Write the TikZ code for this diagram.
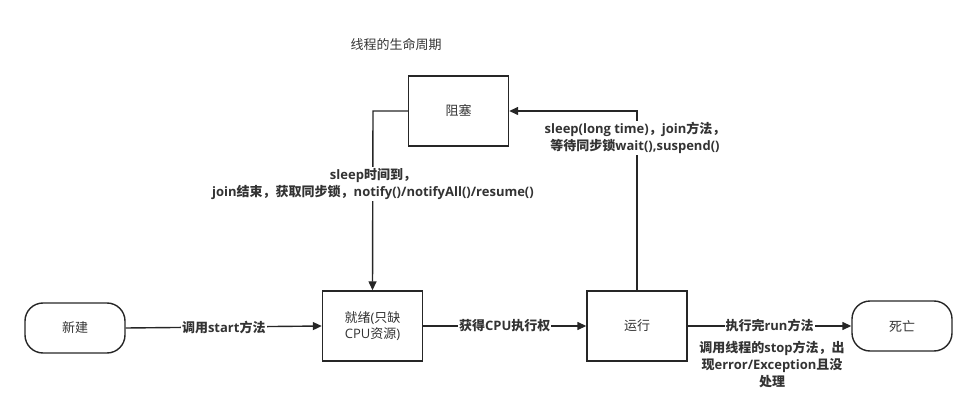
\documentclass[tikz,border=0pt]{standalone}
\usepackage{fontspec}
\newfontfamily\cjk{Noto Sans CJK SC}
\newfontfamily\lat{Open Sans}
\newcommand{\la}[1]{{\lat #1}}
\usetikzlibrary{arrows.meta}
\begin{document}
\begin{tikzpicture}[x=1pt,y=-1pt,
  every node/.style={font=\cjk\fontsize{13}{16}\selectfont, text=black!80},
  box/.style={draw=black!85, line width=1.4pt, minimum width=100pt, minimum height=70pt, inner sep=0pt, align=center},
  term/.style={draw=black!85, line width=1.4pt, rounded corners=18pt, minimum width=100pt, minimum height=50pt, inner sep=0pt},
  conn/.style={draw=black!85, line width=1.4pt, -{Triangle[length=9pt,width=8pt]}},
  lbl/.style={font=\cjk\bfseries\fontsize{13}{17}\selectfont, fill=white, inner sep=1pt, align=center}
]
\useasboundingbox (0,0) rectangle (977,409);
\node at (396,45) {线程的生命周期};
\node[term] (new) at (75,328) {新建};
\node[box] (ready) at (372.5,326) {就绪\la{(}只缺\\\la{CPU}资源\la{)}};
\node[box] (run) at (637,326) {运行};
\node[term] (dead) at (902,326) {死亡};
\node[box] (block) at (458.5,111) {阻塞};
\coordinate (c1) at (637,111);
\coordinate (c2) at (373,111);
\draw[conn] (new.east) -- (ready.west) node[lbl, midway] (l1) {调用\la{start}方法};
\draw[conn] (ready.east) -- (run.west) node[lbl, midway] (l2) {获得\la{CPU}执行权};
\draw[conn] (run.east) -- (dead.west) node[lbl, midway] (l3) {执行完\la{run}方法};
\node[lbl, fill=none] (l4) at (772,364) {调用线程的\la{stop}方法，出\\现\la{error/Exception}且没\\处理};
\draw[conn] (run.north) -- (c1) -- (block.east);
\node[lbl] (l5) at (635,138) {\la{sleep(long time)}，\la{join}方法，\\等待同步锁\la{wait(),suspend()}};
\draw[conn] (block.west) -- (c2) -- (ready.north);
\node[lbl] (l6) at (373,184) {\la{sleep}时间到，\\\la{join}结束，获取同步锁，\la{notify()/notifyAll()/resume()}};
\end{tikzpicture}
\end{document}
